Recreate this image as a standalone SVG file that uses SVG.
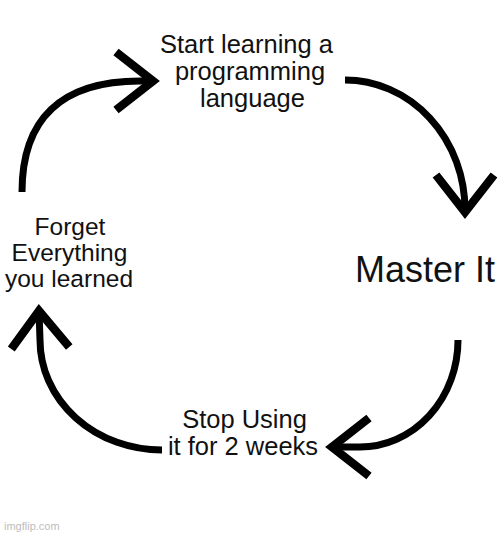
<svg xmlns="http://www.w3.org/2000/svg" width="500" height="536" viewBox="0 0 500 536">
<style>
.t{font-family:"Liberation Sans",Arial,sans-serif;fill:#111;}
.c{fill:none;stroke:#000;stroke-width:7;marker-end:url(#head);}
</style>
<defs>
<marker id="head" markerUnits="userSpaceOnUse" orient="auto" overflow="visible" markerWidth="1" markerHeight="1" refX="0" refY="0">
<path d="M-37,-29 L0,0 L-37,29" fill="none" stroke="#000" stroke-width="8.5" stroke-linejoin="miter"/>
</marker>
</defs>
<rect width="500" height="536" fill="#fff"/>
<g id="connectors">
<path class="c" d="M22,192 C22,120 60,81 140,81 L153,81"/>
<path class="c" d="M345,80 A120,130 0 0 1 465,210 L465,212"/>
<path class="c" d="M458,340 A98,107 0 0 1 360,447 L332,447"/>
<path class="c" d="M162,450 A122,110 0 0 1 40,340 L39,311"/>
</g>
<g id="start">
<text class="t" font-size="25.5" text-anchor="middle"><tspan x="246.5" y="53">Start learning a</tspan><tspan x="250" y="80">programming</tspan><tspan x="252.5" y="107">language</tspan></text>
</g>
<g id="master">
<text class="t" font-size="36" x="355" y="282">Master It</text>
</g>
<g id="stop">
<text class="t" font-size="25.5" text-anchor="middle"><tspan x="244.5" y="428">Stop Using</tspan><tspan x="243" y="455">it for 2 weeks</tspan></text>
</g>
<g id="forget">
<text class="t" font-size="24.5" text-anchor="middle"><tspan x="70" y="235">Forget</tspan><tspan x="69.5" y="261">Everything</tspan><tspan x="69" y="287">you learned</tspan></text>
</g>
<text class="t" font-size="11" x="4" y="530" style="fill:#bdbdbd">imgflip.com</text>
</svg>
